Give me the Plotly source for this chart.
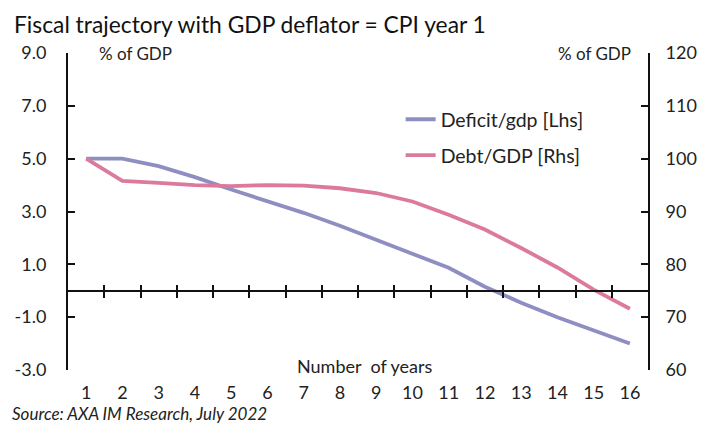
import plotly.graph_objects as go

years = list(range(1, 17))
deficit_gdp = [5.0, 5.0, 4.72, 4.3, 3.83, 3.4, 2.95, 2.46, 1.93, 1.4, 0.87, 0.15, -0.45, -1.0, -1.5, -2.0]
debt_gdp = [100.0, 95.8, 95.4, 95.0, 94.8, 95.0, 94.9, 94.4, 93.5, 91.9, 89.4, 86.6, 83.1, 79.4, 75.2, 71.6]
left_ticks = [-3, -1, 1, 3, 5, 7, 9]
right_ticks = [60, 70, 80, 90, 100, 110, 120]
between_ticks = [y + 0.5 for y in years[:-1]]

FONT = "Lato"
PURPLE = "#8f8ec2"
PINK = "#dc7a9e"
INK = "#111"

fig = go.Figure()
fig.add_trace(go.Scatter(x=years, y=deficit_gdp, mode="lines", name="Deficit/gdp [Lhs]",
                         line=dict(color=PURPLE, width=3.8), legend="legend"))
fig.add_trace(go.Scatter(x=years, y=debt_gdp, mode="lines", name="Debt/GDP [Rhs]",
                         line=dict(color=PINK, width=3.8), yaxis="y2", legend="legend2"))
# empty helper traces so the crossing category axis (at y = 0) is drawn
fig.add_trace(go.Scatter(x=[], y=[], xaxis="x2", yaxis="y", showlegend=False, hoverinfo="skip"))
fig.add_trace(go.Scatter(x=[], y=[], xaxis="x3", yaxis="y", showlegend=False, hoverinfo="skip"))

axis_common = dict(showgrid=False, zeroline=False, automargin=False)
fig.update_layout(
    width=698, height=418,
    margin=dict(l=60, r=58, t=45, b=56),
    paper_bgcolor="white", plot_bgcolor="white",
    font=dict(family=FONT, size=18, color="#222"),
    xaxis=dict(range=[0.5, 16.5], tickvals=years, ticks="", showline=False,
               ticklabelstandoff=10, tickfont=dict(size=18), **axis_common),
    xaxis2=dict(range=[0.5, 16.5], overlaying="x", anchor="free", position=0.25,
                tickvals=between_ticks, ticks="outside", ticklen=6, tickwidth=2,
                tickcolor=INK, showline=True, linecolor=INK, linewidth=2,
                showticklabels=False, **axis_common),
    xaxis3=dict(range=[0.5, 16.5], overlaying="x", anchor="free", position=0.25,
                tickvals=between_ticks, ticks="inside", ticklen=6, tickwidth=2,
                tickcolor=INK, showline=False, showticklabels=False, **axis_common),
    yaxis=dict(range=[-3, 9], tickvals=left_ticks, ticktext=[f"{v:.1f}" for v in left_ticks],
               ticks="inside", ticklen=7, tickwidth=2, tickcolor=INK, showline=True,
               linecolor=INK, linewidth=2, ticklabelstandoff=16, tickfont=dict(size=18),
               **axis_common),
    yaxis2=dict(range=[60, 120], tickvals=right_ticks, overlaying="y", side="right",
                ticks="inside", ticklen=7, tickwidth=2, tickcolor=INK, showline=True,
                linecolor=INK, linewidth=2, ticklabelstandoff=12, tickfont=dict(size=18),
                **axis_common),
    legend=dict(x=0.5735, y=0.79, xanchor="left", yanchor="middle", bgcolor="rgba(0,0,0,0)",
                font=dict(size=19.5), itemwidth=30),
    legend2=dict(x=0.5735, y=0.677, xanchor="left", yanchor="middle", bgcolor="rgba(0,0,0,0)",
                 font=dict(size=19.5), itemwidth=30),
    showlegend=True,
)

fig.add_annotation(text="Fiscal trajectory with GDP deflator = CPI year 1", xref="paper", yref="paper",
                   x=-0.097, y=1.0, xanchor="left", yanchor="middle", yshift=29, showarrow=False,
                   font=dict(size=22.8, color=INK))
fig.add_annotation(text="% of GDP", xref="paper", yref="paper", x=0.05, y=1.0, xanchor="left",
                   yanchor="middle", showarrow=False, font=dict(size=17, color="#222"))
fig.add_annotation(text="% of GDP", xref="paper", yref="paper", x=0.974, y=1.0, xanchor="right",
                   yanchor="middle", showarrow=False, font=dict(size=17, color="#222"))
fig.add_annotation(text="Number  of years", xref="paper", yref="paper", x=0.512, y=0.013,
                   xanchor="center", yanchor="middle", showarrow=False, font=dict(size=18, color="#222"))
fig.add_annotation(text="<i>Source: AXA IM Research, July 2022</i>", xref="paper", yref="paper",
                   x=-0.1, y=-0.136, xanchor="left", yanchor="middle", showarrow=False,
                   font=dict(size=17, color="#222"))

fig.write_html("out.html")
